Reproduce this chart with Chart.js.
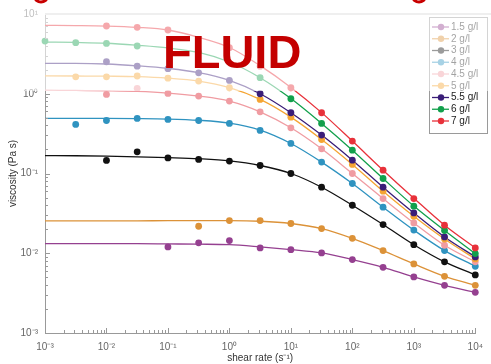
<!DOCTYPE html>
<html>
<head>
<meta charset="utf-8">
<script src="https://cdn.jsdelivr.net/npm/chart.js@4.4.1/dist/chart.umd.min.js"></script>
<style>
  html, body { margin: 0; padding: 0; background: #fff; }
</style>
</head>
<body>
<canvas id="myChart" width="491" height="364"></canvas>
<script>
// shear rates, half-decade steps (s^-1)
const shearRate = [0.001, 0.00316, 0.01, 0.0316, 0.1, 0.316, 1, 3.16, 10, 31.6, 100, 316, 1000, 3160, 10000];

const seriesLabels = ["1.5 g/l", "2 g/l", "3 g/l", "4 g/l", "4.5 g/l", "5 g/l", "5.5 g/l", "6 g/l", "7 g/l"];
const seriesColors = ["#954090", "#dc9238", "#111111", "#2f93c0", "#f09ca2", "#f5a533", "#3a1d78", "#12a04c", "#e8313a"];

// measured viscosity (Pa s), null = no point
const visc15 = [null, null, null, null, 0.012, 0.0135, 0.0144, 0.01167, 0.0111, 0.0101, 0.00833, 0.00667, 0.00505, 0.00396, 0.00324];
const visc2  = [null, null, null, null, null, 0.0218, 0.0257, 0.0257, 0.0236, 0.0204, 0.0154, 0.0108, 0.00735, 0.00514, 0.00396];
const visc3  = [null, null, 0.146, 0.187, 0.157, 0.15, 0.143, 0.126, 0.1, 0.0673, 0.04, 0.0229, 0.0128, 0.0078, 0.00535];
const visc4  = [null, 0.412, 0.462, 0.49, 0.476, 0.462, 0.424, 0.347, 0.238, 0.139, 0.0749, 0.0378, 0.0195, 0.0108, 0.00687];
const visc45 = [null, null, 0.98, 1.17, 1.01, 0.935, 0.809, 0.594, 0.374, 0.204, 0.1, 0.0485, 0.024, 0.0126, 0.0078];
const visc5  = [null, 1.63, 1.63, 1.67, 1.57, 1.44, 1.19, 0.849, 0.509, 0.267, 0.13, 0.06, 0.0291, 0.0151, 0.0085];
const visc55 = [null, null, 2.52, 2.22, 2.06, 1.83, 1.47, 1.0, 0.578, 0.303, 0.147, 0.0673, 0.032, 0.016, 0.009];
const visc6  = [4.58, 4.37, 4.28, 3.97, null, 3.33, null, 1.59, 0.866, 0.424, 0.196, 0.0865, 0.0389, 0.0193, 0.0099];
const visc7  = [null, null, 7.07, 6.8, 6.3, null, 3.78, 2.22, 1.19, 0.578, 0.255, 0.11, 0.0485, 0.0225, 0.01167];

// fitted curves at the same shear rates
const fit15 = [0.0132, 0.0132, 0.0132, 0.0132, 0.0131, 0.013, 0.0128, 0.012, 0.0111, 0.0101, 0.00833, 0.00667, 0.00505, 0.00396, 0.00324];
const fit2  = [0.0255, 0.0255, 0.0255, 0.0255, 0.0256, 0.0256, 0.0256, 0.0252, 0.0236, 0.0204, 0.0154, 0.0108, 0.00735, 0.00514, 0.00396];
const fit3  = [0.168, 0.167, 0.165, 0.162, 0.158, 0.153, 0.144, 0.126, 0.1, 0.0673, 0.04, 0.0229, 0.0128, 0.0078, 0.00535];
const fit4  = [0.49, 0.49, 0.49, 0.488, 0.482, 0.465, 0.428, 0.35, 0.238, 0.139, 0.0749, 0.0378, 0.0195, 0.0108, 0.00687];
const fit45 = [1.11, 1.1, 1.09, 1.07, 1.02, 0.935, 0.81, 0.594, 0.374, 0.204, 0.1, 0.0485, 0.024, 0.0126, 0.0078];
const fit5  = [1.68, 1.67, 1.66, 1.64, 1.57, 1.44, 1.19, 0.849, 0.509, 0.267, 0.13, 0.06, 0.0291, 0.0151, 0.0085];
const fit55 = [2.4, 2.4, 2.36, 2.24, 2.08, 1.84, 1.47, 1.0, 0.578, 0.303, 0.147, 0.0673, 0.032, 0.016, 0.009];
const fit6  = [4.45, 4.4, 4.3, 4.05, 3.75, 3.3, 2.5, 1.59, 0.87, 0.424, 0.196, 0.0865, 0.039, 0.0193, 0.0099];
const fit7  = [7.2, 7.15, 7.05, 6.8, 6.3, 5.1, 3.8, 2.25, 1.2, 0.58, 0.255, 0.11, 0.049, 0.0225, 0.0117];

const xTickLabels = ["10\u207B\u00B3", "10\u207B\u00B2", "10\u207B\u00B9", "10\u2070", "10\u00B9", "10\u00B2", "10\u00B3", "10\u2074"];
const yTickLabels = ["10\u207B\u00B3", "10\u207B\u00B2", "10\u207B\u00B9", "10\u2070", "10\u00B9"];

const allVisc = [visc15, visc2, visc3, visc4, visc45, visc5, visc55, visc6, visc7];
const allFits = [fit15, fit2, fit3, fit4, fit45, fit5, fit55, fit6, fit7];

const FONT = '"Liberation Sans", Arial, sans-serif';

function toPoints(vals) {
    return shearRate.map((x, i) => ({x: x, y: vals[i]})).filter(p => p.y !== null);
}

// every 1..9 x 10^e tick between two decades
function logTicks(lo, hi) {
    const t = [];
    for (let e = lo; e <= hi; e++) {
        for (let m = 1; m <= 9; m++) {
            if (e === hi && m > 1) break;
            t.push({value: m * Math.pow(10, e)});
        }
    }
    return t;
}

function isDecade(v) {
    const e = Math.log10(v);
    return Math.abs(e - Math.round(e)) < 1e-6;
}

const datasets = [];
seriesLabels.forEach((label, i) => {
    datasets.push({
        label: label + " fit",
        data: toPoints(allFits[i]),
        showLine: true,
        pointRadius: 0,
        borderColor: seriesColors[i],
        borderWidth: 1.3,
        cubicInterpolationMode: "monotone",
        order: 20 - i
    });
    datasets.push({
        label: label,
        data: toPoints(allVisc[i]),
        showLine: false,
        pointRadius: 3.4,
        pointBackgroundColor: seriesColors[i],
        pointBorderWidth: 0,
        clip: false,
        order: 10 - i
    });
});

// inward ticks, top border, legend, fade band and the FLUID overlay
const decorPlugin = {
    id: "decor",
    afterDraw(chart) {
        const ctx = chart.ctx;
        const area = chart.chartArea;
        const xs = chart.scales.x;
        const ys = chart.scales.y;
        ctx.save();

        ctx.strokeStyle = "#999";
        ctx.lineWidth = 1;
        xs.ticks.forEach(t => {
            const px = Math.round(xs.getPixelForValue(t.value)) + 0.5;
            const len = isDecade(t.value) ? 5 : 3;
            ctx.beginPath();
            ctx.moveTo(px, area.bottom);
            ctx.lineTo(px, area.bottom - len);
            ctx.stroke();
        });
        ys.ticks.forEach(t => {
            const py = Math.round(ys.getPixelForValue(t.value)) + 0.5;
            const len = isDecade(t.value) ? 5 : 3;
            ctx.beginPath();
            ctx.moveTo(area.left, py);
            ctx.lineTo(area.left + len, py);
            ctx.stroke();
        });

        // top frame line
        ctx.strokeStyle = "#d8d8d8";
        ctx.lineWidth = 2;
        ctx.beginPath();
        ctx.moveTo(area.left, area.top);
        ctx.lineTo(chart.width, area.top);
        ctx.stroke();

        // legend box
        const lx = 429, ly = 17, lw = 58, lh = 116;
        ctx.fillStyle = "#fff";
        ctx.fillRect(lx, ly, lw, lh);
        ctx.strokeStyle = "#9a9a9a";
        ctx.lineWidth = 1;
        ctx.strokeRect(lx + 0.5, ly + 0.5, lw, lh);
        ctx.font = "10px " + FONT;
        ctx.textBaseline = "middle";
        ctx.textAlign = "left";
        seriesLabels.forEach((label, i) => {
            const y = 27 + i * 11.75;
            ctx.strokeStyle = seriesColors[i];
            ctx.lineWidth = 1.3;
            ctx.beginPath();
            ctx.moveTo(432, y);
            ctx.lineTo(449, y);
            ctx.stroke();
            ctx.fillStyle = seriesColors[i];
            ctx.beginPath();
            ctx.arc(441, y, 3.2, 0, Math.PI * 2);
            ctx.fill();
            ctx.fillStyle = "#222";
            ctx.fillText(label, 451, y);
        });

        // faded top band
        ctx.fillStyle = "rgba(255,255,255,0.58)";
        ctx.fillRect(0, 0, chart.width, 91);

        // red shapes cut at the top edge
        ctx.strokeStyle = "#c80000";
        ctx.lineWidth = 3;
        [41, 419].forEach(cx => {
            ctx.beginPath();
            ctx.ellipse(cx, -3, 6, 5, 0, 0, Math.PI);
            ctx.stroke();
        });

        ctx.fillStyle = "#c40000";
        ctx.font = "bold 47px " + FONT;
        ctx.textBaseline = "alphabetic";
        ctx.textAlign = "left";
        ctx.fillText("FLUID", 163, 68);

        ctx.restore();
    }
};

new Chart(document.getElementById("myChart"), {
    type: "scatter",
    data: {datasets: datasets},
    options: {
        responsive: false,
        animation: false,
        devicePixelRatio: 1,
        layout: {padding: {top: 14, right: 6, left: 0, bottom: 0}},
        plugins: {
            legend: {display: false},
            tooltip: {enabled: false}
        },
        scales: {
            x: {
                type: "logarithmic",
                min: 0.001,
                max: 10000,
                afterBuildTicks: s => { s.ticks = logTicks(-3, 4); },
                afterFit: s => { s.height = 31; },
                grid: {display: false, drawTicks: false},
                border: {display: true, color: "#999", width: 1},
                ticks: {
                    autoSkip: false,
                    maxRotation: 0,
                    padding: 8,
                    color: "#666",
                    font: {family: FONT, size: 10},
                    callback: v => isDecade(v) ? xTickLabels[Math.round(Math.log10(v)) + 3] : ""
                },
                title: {
                    display: true,
                    text: "shear rate (s\u207B\u00B9)",
                    color: "#333",
                    padding: {top: 0, bottom: 0},
                    font: {family: FONT, size: 10}
                }
            },
            y: {
                type: "logarithmic",
                min: 0.001,
                max: 10,
                afterBuildTicks: s => { s.ticks = logTicks(-3, 1); },
                afterFit: s => { s.width = 45; },
                grid: {display: false, drawTicks: false},
                border: {display: true, color: "#999", width: 1},
                ticks: {
                    autoSkip: false,
                    padding: 7,
                    color: "#666",
                    font: {family: FONT, size: 10},
                    callback: v => isDecade(v) ? yTickLabels[Math.round(Math.log10(v)) + 3] : ""
                },
                title: {
                    display: true,
                    text: "viscosity (Pa s)",
                    color: "#333",
                    padding: {top: 7, bottom: 0},
                    font: {family: FONT, size: 10}
                }
            }
        }
    },
    plugins: [decorPlugin]
});
</script>
</body>
</html>
